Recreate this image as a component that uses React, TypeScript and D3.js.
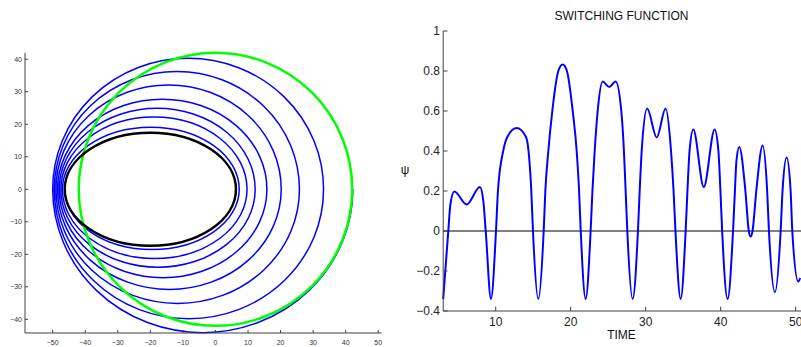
import React from "react";
import * as d3 from "d3";

// ---------- Left panel: orbit spiral ----------
const orbitTicksX = [-50, -40, -30, -20, -10, 0, 10, 20, 30, 40, 50];
const orbitTicksY = [-40, -30, -20, -10, 0, 10, 20, 30, 40];
const orbitDomainX = [-58.5, 51];
const orbitDomainY = [-44.2, 42];

// initial orbit (black): [left apsis, right apsis, half height]
const initialOrbit = [-46.3, 6.3, 17.4];
// target orbit (green circle): radius
const targetRadius = [42];

// blue spiral
const spiralApo = [-46.3, -47, -47.5, -48, -48.5, -49, -49.5, -50];
const spiralPeri = [7.3, 9.7, 12.2, 15.8, 20.2, 25.8, 33.2, 42.2];
const spiralLower = [18.5, 21.3, 24.0, 27.2, 30.8, 35.1, 39.8, 44.1];
const spiralUpper = [19.1, 22.2, 24.9, 27.7, 32.1, 36.2, 40.3];

// ---------- Right panel: switching function ----------
const timeTicks = [10, 20, 30, 40, 50];
const psiTicks = [-0.4, -0.2, 0, 0.2, 0.4, 0.6, 0.8, 1];
const timeDomain = [3, 50.7];
const psiDomain = [-0.4, 1];

const timeValues = [
  3.0, 3.68, 3.95, 4.48, 6.13, 7.9, 8.35, 8.67, 9.37, 10.04, 10.3, 11.0, 11.55,
  12.8, 14.04, 14.38, 14.75, 14.97, 15.68, 16.4, 16.62, 17.02, 17.55, 18.35,
  18.93, 19.5, 20.27, 20.8, 21.12, 21.34, 22.0, 22.66, 22.9, 23.2, 23.6, 24.27,
  25.15, 26.0, 26.75, 27.1, 27.33, 27.55, 28.26, 28.97, 29.2, 29.47, 30.2,
  31.47, 32.66, 33.38, 33.72, 33.97, 34.67, 35.33, 35.57, 35.85, 36.35, 37.75,
  39.2, 39.7, 39.97, 40.2, 40.93, 41.65, 41.9, 42.1, 42.48, 43.3, 43.75, 44.0,
  44.25, 44.75, 45.6, 46.2, 46.44, 47.24, 48.0, 48.25, 48.8, 49.33, 49.55,
  50.35, 50.6,
];
const psiValues = [
  -0.34, 0, 0.13, 0.197, 0.133, 0.22, 0.15, 0, -0.34, 0, 0.2, 0.4, 0.47, 0.515,
  0.47, 0.4, 0.2, 0, -0.34, 0, 0.2, 0.4, 0.6, 0.8, 0.833, 0.8, 0.6, 0.4, 0.2, 0,
  -0.34, 0, 0.2, 0.4, 0.6, 0.747, 0.72, 0.748, 0.6, 0.4, 0.2, 0, -0.34, 0, 0.2,
  0.4, 0.612, 0.468, 0.612, 0.4, 0.2, 0, -0.34, 0, 0.2, 0.4, 0.508, 0.22, 0.508,
  0.4, 0.2, 0, -0.34, 0, 0.2, 0.35, 0.42, 0.2, 0, -0.028, 0, 0.2, 0.427, 0.2, 0,
  -0.305, 0, 0.2, 0.367, 0.2, 0, -0.253, -0.235,
];

const FONT = "'Liberation Sans', Arial, Helvetica, sans-serif";
const AXIS = "#404040";
const fmt = (v: number) => (v < 0 ? "\u2212" + String(Math.abs(v)) : String(v));

function OrbitPanel() {
  const x = d3.scaleLinear().domain(orbitDomainX).range([25, 381.5]);
  const y = d3.scaleLinear().domain(orbitDomainY).range([333, 52.7]);
  const y0 = y(0);

  const arc = (fromX: number, toX: number, h: number) => {
    const rx = Math.abs(x(toX) - x(fromX)) / 2;
    const ry = Math.abs(y(0) - y(h));
    return `A${rx},${ry} 0 0 0 ${x(toX)},${y0}`;
  };

  let spiral = `M${x(spiralApo[0])},${y0}`;
  for (let k = 0; k < spiralPeri.length; k++) {
    spiral += arc(spiralApo[k], spiralPeri[k], spiralLower[k]);
    if (k < spiralUpper.length) spiral += arc(spiralPeri[k], spiralApo[k + 1], spiralUpper[k]);
  }

  const [bl, br, bh] = initialOrbit;
  const bcx = (x(bl) + x(br)) / 2;
  const brx = (x(br) - x(bl)) / 2;
  const bry = y(0) - y(bh);

  const gR = targetRadius[0];

  return (
    <g>
      <path d={spiral} fill="none" stroke="#0000ff" strokeWidth={1.5} />
      <ellipse
        cx={x(0)}
        cy={y0}
        rx={x(gR) - x(0)}
        ry={y(0) - y(gR)}
        fill="none"
        stroke="#00ff00"
        strokeWidth={2.5}
      />
      <ellipse cx={bcx} cy={y0} rx={brx} ry={bry} fill="none" stroke="#000" strokeWidth={2.5} />

      {/* axes */}
      <line x1={25} x2={25} y1={52.7} y2={333} stroke={AXIS} strokeWidth={1} />
      <line x1={25} x2={381.5} y1={333} y2={333} stroke={AXIS} strokeWidth={1} />
      {orbitTicksY.map((v) => (
        <g key={"oy" + v}>
          <line x1={25} x2={28} y1={y(v)} y2={y(v)} stroke={AXIS} />
          <text
            x={22}
            y={y(v)}
            dy="0.35em"
            textAnchor="end"
            fontFamily={FONT}
            fontSize={7}
            fill="#333"
          >
            {fmt(v)}
          </text>
        </g>
      ))}
      {orbitTicksX.map((v) => (
        <g key={"ox" + v}>
          <line x1={x(v)} x2={x(v)} y1={333} y2={330} stroke={AXIS} />
          <text
            x={x(v)}
            y={344.5}
            textAnchor="middle"
            fontFamily={FONT}
            fontSize={7}
            fill="#333"
          >
            {fmt(v)}
          </text>
        </g>
      ))}
    </g>
  );
}

function SwitchPanel() {
  const x = d3.scaleLinear().domain(timeDomain).range([443.2, 800.9]);
  const y = d3.scaleLinear().domain(psiDomain).range([311, 31]);
  const pts: [number, number][] = timeValues.map((t, i) => [t, psiValues[i]]);
  const line = d3
    .line<[number, number]>()
    .x((d) => x(d[0]))
    .y((d) => y(d[1]))
    .curve(d3.curveMonotoneX);

  return (
    <g>
      <text x={621.5} y={20} textAnchor="middle" fontFamily={FONT} fontSize={12} fill="#111">
        SWITCHING FUNCTION
      </text>
      <line x1={x(timeDomain[0])} x2={801} y1={y(0)} y2={y(0)} stroke="#000" strokeWidth={1} />
      <path d={line(pts) || ""} fill="none" stroke="#0000ff" strokeWidth={2} />

      <line x1={443.2} x2={443.2} y1={31} y2={311} stroke={AXIS} strokeWidth={1} />
      <line x1={443.2} x2={801} y1={311} y2={311} stroke={AXIS} strokeWidth={1} />
      {psiTicks.map((v) => (
        <g key={"py" + v}>
          <line x1={443.2} x2={447.5} y1={y(v)} y2={y(v)} stroke={AXIS} />
          <text
            x={440}
            y={y(v)}
            dy="0.35em"
            textAnchor="end"
            fontFamily={FONT}
            fontSize={12}
            fill="#222"
          >
            {fmt(v)}
          </text>
        </g>
      ))}
      {timeTicks.map((v) => (
        <g key={"px" + v}>
          <line x1={x(v)} x2={x(v)} y1={311} y2={306.7} stroke={AXIS} />
          <text
            x={x(v)}
            y={326}
            textAnchor="middle"
            fontFamily={FONT}
            fontSize={12}
            fill="#222"
          >
            {String(v)}
          </text>
        </g>
      ))}
      <text x={621.5} y={339} textAnchor="middle" fontFamily={FONT} fontSize={12} fill="#111">
        TIME
      </text>
      <text x={405} y={174} textAnchor="middle" fontFamily={FONT} fontSize={12} fill="#111">
        ψ
      </text>
    </g>
  );
}

export default function App() {
  return (
    <svg
      width={801}
      height={347}
      viewBox="0 0 801 347"
      style={{ position: "absolute", left: 0, top: 0, background: "#fff" }}
    >
      <rect width={801} height={347} fill="#fff" />
      <OrbitPanel />
      <SwitchPanel />
    </svg>
  );
}
